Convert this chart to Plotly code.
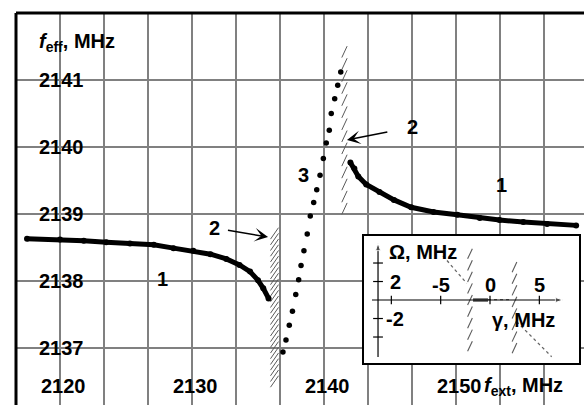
import numpy as np
import plotly.graph_objects as go

FONT = "Liberation Sans"

# ---------------- data (main chart) ----------------
# branch 1, left part
b1l_fext = [2117.5, 2120.0, 2121.8, 2123.5, 2125.3, 2127.1, 2128.6, 2130.1,
            2131.4, 2132.6, 2133.6, 2134.4, 2135.0, 2135.4, 2135.8]
b1l_feff = [2138.63, 2138.62, 2138.60, 2138.58, 2138.56, 2138.54, 2138.49, 2138.45,
            2138.40, 2138.33, 2138.24, 2138.14, 2138.01, 2137.89, 2137.74]
# branch 1, right part
b1r_fext = [2142.0, 2142.3, 2142.6, 2143.2, 2144.2, 2145.3, 2146.6, 2148.3,
            2150.1, 2151.8, 2153.3, 2155.1, 2156.9, 2159.1]
b1r_feff = [2139.77, 2139.68, 2139.56, 2139.44, 2139.33, 2139.21, 2139.10, 2139.03,
            2138.99, 2138.94, 2138.91, 2138.88, 2138.85, 2138.83]
# branch 3 (dots)
b3_fext = [2141.27, 2141.04, 2140.81, 2140.55, 2140.40, 2140.17, 2139.95, 2139.70,
           2139.45, 2139.22, 2138.96, 2138.73, 2138.48, 2138.26, 2138.08, 2137.86,
           2137.61, 2137.37, 2137.12, 2136.89]
b3_feff = [2141.12, 2140.92, 2140.72, 2140.50, 2140.25, 2140.06, 2139.83, 2139.58,
           2139.36, 2139.17, 2138.97, 2138.70, 2138.45, 2138.23, 2138.02, 2137.80,
           2137.55, 2137.34, 2137.12, 2136.94]
# hatched markers "2"
hatch_fext = [2136.25, 2141.55]
hatch_lo = [2136.50, 2139.08]
hatch_hi = [2138.76, 2141.48]

x_tick_vals = [2120, 2130, 2140, 2150]
y_tick_vals = [2137, 2138, 2139, 2140, 2141]

# ---------------- data (inset) ----------------
in_upper_g = [-4.76, -2.36]
in_upper_o = [4.76, 1.80]
in_lower_g = [2.70, 6.25]
in_lower_o = [-2.34, -6.13]
in_flat_g = [-1.72, -0.20]
in_flat_o = [0.0, 0.0]
in_dot_g = [-0.20, 2.20]
in_dot_o = [0.05, 0.05]
in_hatch_g = [-2.03, 2.48]
in_hatch_lo = [-5.0, -5.2]
in_hatch_hi = [5.0, 4.5]
in_g_ticks = [-10, -5, 0, 5]
in_g_labels = [-5, 0, 5]
in_o_ticks = [-4, -2, 2, 4]
in_o_labels = [2, -2]

# ---------------- style constants ----------------
GRID = "#808080"
HATCH = "#5a5a5a"
X_RANGE = [2116.667, 2159.697]
Y_RANGE = [2136.149, 2142.0]
G_RANGE = [-12.77, 9.02]
O_RANGE = [-6.81, 6.92]
G_AXIS = -11.35          # position of the inset's vertical axis
G_AXIS_SPAN = [-11.96, 7.4]
O_AXIS_SPAN = [-6.16, 6.16]

fig = go.Figure()

# hatched markers drawn as columns of slanted strokes
main_step = [0.085, 0.18]     # stroke spacing (MHz)
main_size = [10, 9]           # stroke length (px)
main_angle = [35, 25]         # stroke slant (deg)
for xc, lo, hi, st, sz, an in zip(hatch_fext, hatch_lo, hatch_hi, main_step, main_size, main_angle):
    ys = np.arange(lo, hi, st)
    fig.add_trace(go.Scatter(x=[xc] * len(ys), y=ys, mode="markers", hoverinfo="skip",
                             marker=dict(symbol="line-ns", size=sz, angle=an,
                                         line=dict(color=HATCH, width=1.0))))

# branch 1
for xs, ys in [(b1l_fext, b1l_feff), (b1r_fext, b1r_feff)]:
    fig.add_trace(go.Scatter(x=xs, y=ys, mode="lines+markers",
                             line=dict(color="black", width=5),
                             marker=dict(color="black", size=6)))
# branch 3
fig.add_trace(go.Scatter(x=b3_fext, y=b3_feff, mode="markers",
                         marker=dict(color="black", size=5.5)))

# ---------------- inset traces ----------------
for gc, lo, hi in zip(in_hatch_g, in_hatch_lo, in_hatch_hi):
    ys = np.arange(lo, hi + 0.01, 1.25)
    fig.add_trace(go.Scatter(x=[gc] * len(ys), y=ys, xaxis="x2", yaxis="y2",
                             mode="markers", hoverinfo="skip",
                             marker=dict(symbol="line-ns", size=8, angle=25,
                                         line=dict(color=HATCH, width=1.1))))
for xs, ys in [(in_upper_g, in_upper_o), (in_lower_g, in_lower_o), (in_dot_g, in_dot_o)]:
    fig.add_trace(go.Scatter(x=xs, y=ys, xaxis="x2", yaxis="y2", mode="lines",
                             line=dict(color="#666666", width=1.3, dash="dot")))
fig.add_trace(go.Scatter(x=in_flat_g, y=in_flat_o, xaxis="x2", yaxis="y2", mode="lines",
                         line=dict(color="#555555", width=3.5)))
# inset axes with arrow heads
fig.add_trace(go.Scatter(x=G_AXIS_SPAN, y=[0, 0], xaxis="x2", yaxis="y2",
                         mode="lines+markers", line=dict(color="black", width=1.2),
                         marker=dict(symbol=["circle", "arrow"], size=[0, 8],
                                     angleref="previous", color="black")))
fig.add_trace(go.Scatter(x=[G_AXIS, G_AXIS], y=O_AXIS_SPAN, xaxis="x2", yaxis="y2",
                         mode="lines+markers", line=dict(color="black", width=1.2),
                         marker=dict(symbol=["circle", "arrow"], size=[0, 8],
                                     angleref="previous", color="black")))
# inset tick marks
fig.add_trace(go.Scatter(x=in_g_ticks, y=[0] * len(in_g_ticks), xaxis="x2", yaxis="y2",
                         mode="markers",
                         marker=dict(symbol="line-ns", size=6,
                                     line=dict(color="black", width=1.2))))
fig.add_trace(go.Scatter(x=[G_AXIS] * len(in_o_ticks), y=in_o_ticks, xaxis="x2", yaxis="y2",
                         mode="markers",
                         marker=dict(symbol="line-ew", size=7,
                                     line=dict(color="black", width=1.2))))

# ---------------- annotations ----------------
def txt(x, y, s, xref="x", yref="y", xanchor="center", xshift=0):
    fig.add_annotation(x=x, y=y, xref=xref, yref=yref, text=f"<b>{s}</b>",
                       showarrow=False, xanchor=xanchor, yanchor="middle",
                       xshift=xshift,
                       font=dict(family=FONT, size=20, color="black"))

for v in y_tick_vals:
    txt(2120, v, str(v), xshift=1)
for v in x_tick_vals:
    txt(v, 2136.43, str(v), xshift=3)
txt(2151.95, 2136.43, "<i>f</i><sub>ext</sub>, MHz", xanchor="left")
txt(2118.26, 2141.567, "<i>f</i><sub>eff</sub>, MHz", xanchor="left")

txt(2127.80, 2138.03, "1")
txt(2153.48, 2139.43, "1")
txt(2138.41, 2139.58, "3")

# labels "2" with arrows pointing at the hatched markers
for tip, lab, gap in [((2135.76, 2138.657), (2131.67, 2138.79), 7),
                      ((2141.74, 2140.104), (2146.74, 2140.30), 19)]:
    fig.add_annotation(x=tip[0], y=tip[1], ax=lab[0], ay=lab[1],
                       xref="x", yref="y", axref="x", ayref="y", text="<b>2</b>",
                       font=dict(family=FONT, size=20, color="black"),
                       showarrow=True, arrowhead=3, arrowsize=1.5, arrowwidth=1.5,
                       arrowcolor="black", startstandoff=gap)

for v in in_g_labels:
    txt(v, 1.6, str(v), xref="x2", yref="y2")
for v in in_o_labels:
    txt(-9.6, v, str(v), xref="x2", yref="y2")
txt(-10.43, 5.19, "Ω, MHz", xref="x2", yref="y2", xanchor="left")
txt(0.0, -2.11, "γ, MHz", xref="x2", yref="y2", xanchor="left")

# borders (top and left)
fig.add_shape(type="line", xref="paper", yref="paper", x0=0, x1=1, y0=1, y1=1,
              line=dict(color="black", width=3))
fig.add_shape(type="line", xref="paper", yref="paper", x0=0, x1=0, y0=0, y1=1,
              line=dict(color="black", width=3))

fig.update_layout(
    width=584, height=405,
    margin=dict(l=16, r=0, t=13, b=0),
    paper_bgcolor="white", plot_bgcolor="white",
    showlegend=False,
    xaxis=dict(range=X_RANGE, tick0=2120, dtick=10 / 3, showgrid=True,
               gridcolor=GRID, gridwidth=1.6, showticklabels=False, ticks="",
               zeroline=False, showline=False),
    yaxis=dict(range=Y_RANGE, tick0=2137, dtick=1, showgrid=True,
               gridcolor=GRID, gridwidth=1.6, showticklabels=False, ticks="",
               zeroline=False, showline=False),
    xaxis2=dict(domain=[0.6127, 0.9912], range=G_RANGE, anchor="y2",
                showgrid=False, zeroline=False, showticklabels=False, ticks="",
                showline=True, mirror=True, linecolor="black", linewidth=1.5),
    yaxis2=dict(domain=[0.1071, 0.4311], range=O_RANGE, anchor="x2",
                showgrid=False, zeroline=False, showticklabels=False, ticks="",
                showline=True, mirror=True, linecolor="black", linewidth=1.5),
)

fig.write_html("out.html", config={"displayModeBar": False},
               post_script="document.body.style.margin='0';")
